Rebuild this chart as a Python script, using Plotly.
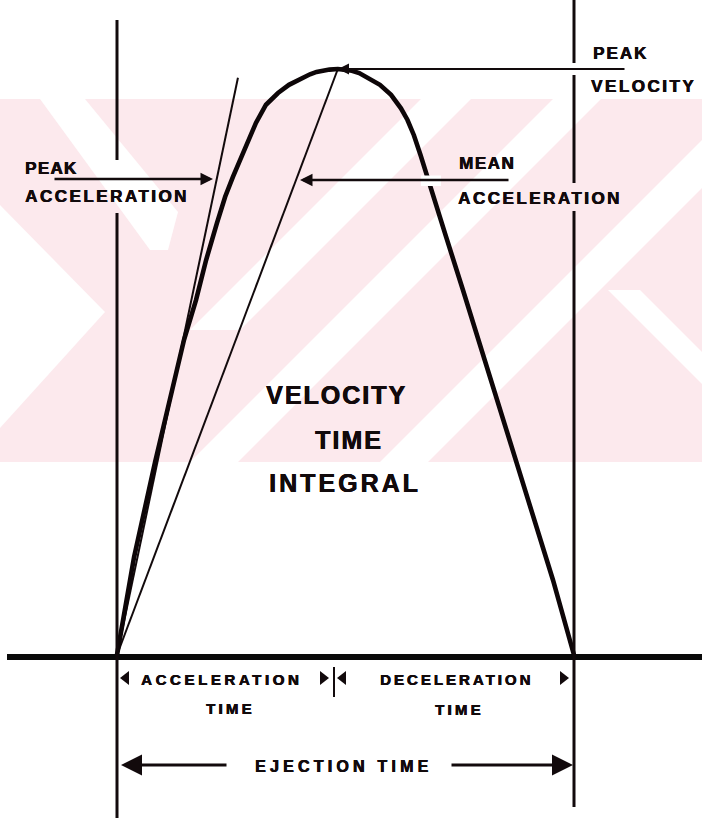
import plotly.graph_objects as go

# ---------------- data (time in ms, velocity in cm/s) ----------------
time_ms = [0, 5.3, 11.2, 24.9, 34.8, 44.0, 51.9, 58.5, 65.6, 71.0, 76.1, 80.9, 85.3, 91.2,
           97.8, 105.7, 112.9, 122.1, 126.7, 131.0, 134.6, 139.5, 145.0,
           150.5, 154.3, 159.0, 163.5, 172.6, 179.9, 186.4, 190.7, 194.9, 199.3,
           203.2, 208.5, 216.1, 227.1, 243.5, 255.4, 271.8, 286.2, 300.0]
velocity = [0, 7.7, 16.7, 32.8, 43.5, 53.8, 60.6, 67.4, 73.7, 78.2, 81.6, 84.6, 87.4, 90.8,
            93.9, 95.9, 97.3, 98.6, 99.1, 99.5, 99.7, 99.9, 100.0,
            99.9, 99.7, 99.3, 98.6, 97.3, 95.6, 93.3, 91.3, 88.7, 85.3,
            81.9, 77.6, 71.3, 62.3, 48.6, 38.4, 24.7, 12.8, 0]
peak_time = 145.0
peak_velocity = 100.0
ejection_time = 300.0
tangent_t = [0, 79.4]      # peak-acceleration tangent
tangent_v = [0, 98.5]
mean_t = [0, peak_time]    # mean acceleration line
mean_v = [0, peak_velocity]

# ---------------- pixel helpers for layout ----------------
W, H = 702, 820
KX, KY = 0.65646, 0.17065
X0PX, Y0PX = 117, 655


def tx(px):
    return (px - X0PX) * KX


def vy(py):
    return (Y0PX - py) * KY


def sp(text, ls):
    return f'<span style="letter-spacing:{ls}px"><b>{text}</b></span>'


FONT = "Liberation Sans"
INK = "#120a0c"
SHADOW = f"0.6px 0px 0px {INK}, 0px 0.4px 0px {INK}"
fig = go.Figure()

# thin lines
fig.add_trace(go.Scatter(x=tangent_t, y=tangent_v, mode="lines",
                         line=dict(color=INK, width=2), hoverinfo="skip"))
fig.add_trace(go.Scatter(x=mean_t, y=mean_v, mode="lines",
                         line=dict(color=INK, width=2), hoverinfo="skip"))
# velocity curve
fig.add_trace(go.Scatter(x=time_ms, y=velocity, mode="lines",
                         line=dict(color="#0d0608", width=4.6),
                         hoverinfo="skip"))

shapes = []


def poly(pts, color, layer="below"):
    d = "M " + " L ".join(f"{x / W:.5f},{1 - y / H:.5f}" for x, y in pts) + " Z"
    shapes.append(dict(type="path", xref="paper", yref="paper", path=d,
                       fillcolor=color, line=dict(width=0), layer=layer))


PINK = "#fce9ed"
# watermark band with white stripes (approximation)
poly([(0, 99), (702, 99), (702, 462), (0, 462)], PINK)
poly([(40, 99), (85, 99), (178, 212), (168, 250), (150, 250)], "white")
poly([(0, 205), (105, 312), (0, 428)], "white")
poly([(553, 99), (601, 99), (238, 462), (190, 462)], "white")
poly([(421, 99), (471, 99), (240, 330), (190, 330)], "white")
poly([(702, 140), (702, 188), (428, 462), (380, 462)], "white")
poly([(608, 290), (640, 290), (702, 352), (702, 384)], "white")

# small break in the curve where the mean-acceleration arrow crosses it
poly([(421, 175.5), (441, 175.5), (441, 186), (421, 186)], "white", layer="above")

# baseline
shapes.append(dict(type="line", xref="x", yref="y", x0=tx(7), x1=tx(702),
                   y0=vy(657), y1=vy(657), line=dict(color="#0a0a0a", width=6)))
# left vertical (onset)
for a, b in [(20, 160), (213, 818)]:
    shapes.append(dict(type="line", xref="x", yref="y", x0=0, x1=0,
                       y0=vy(a), y1=vy(b), line=dict(color=INK, width=3)))
# right vertical (end of ejection)
for a, b in [(0, 63), (75, 183), (211, 807)]:
    shapes.append(dict(type="line", xref="x", yref="y", x0=ejection_time, x1=ejection_time,
                       y0=vy(a), y1=vy(b), line=dict(color=INK, width=3)))
# tick at end of acceleration time
shapes.append(dict(type="line", xref="x", yref="y", x0=tx(334), x1=tx(334),
                   y0=vy(667), y1=vy(697), line=dict(color=INK, width=2)))

ann = []


def arrow(x_tip, y_tip, x_tail, y_tail, w=2, size=1.0, head=2):
    ann.append(dict(x=x_tip, y=y_tip, ax=x_tail, ay=y_tail, xref="x", yref="y",
                    axref="x", ayref="y", text="", showarrow=True, arrowhead=head,
                    arrowsize=size, arrowwidth=w, arrowcolor=INK, standoff=0,
                    startstandoff=0))


# peak velocity arrow
arrow(tx(338), vy(69), tx(626), vy(69), w=2.2)
# peak acceleration arrow
arrow(tx(213), vy(179), tx(53), vy(179), w=2.5)
# mean acceleration arrow
arrow(tx(300), vy(180), tx(510), vy(180), w=2.5)
# ejection time arrows
arrow(tx(121), vy(765), tx(228), vy(765), w=3, size=1.4)
arrow(tx(573), vy(765), tx(450), vy(765), w=3, size=1.4)

# small arrowheads on the acceleration / deceleration row
fig.add_trace(go.Scatter(x=[tx(126), tx(343)], y=[vy(678), vy(678)], mode="markers",
                         marker=dict(symbol="triangle-left", size=12, color=INK),
                         hoverinfo="skip"))
fig.add_trace(go.Scatter(x=[tx(323), tx(563)], y=[vy(678), vy(678)], mode="markers",
                         marker=dict(symbol="triangle-right", size=12, color=INK),
                         hoverinfo="skip"))


def label(text, px, py, size, ls, anchor="left"):
    ann.append(dict(x=px / W, y=1 - py / H, xref="paper", yref="paper",
                    text=sp(text, ls), showarrow=False, xanchor=anchor, yanchor="middle",
                    font=dict(family=FONT, size=size, color=INK, shadow=SHADOW)))


label("PEAK", 23, 169, 17, 1.3)
label("ACCELERATION", 23, 196, 17, 2.5)
label("MEAN", 457, 164, 17, 1.5)
label("ACCELERATION", 456, 198, 17, 2.5)
label("PEAK", 591, 53, 17, 2.0)
label("VELOCITY", 589, 87, 17, 2.5)
label("VELOCITY", 336, 395, 25, 2.0, "center")
label("TIME", 349, 440, 25, 2.0, "center")
label("INTEGRAL", 345, 483, 25, 3.0, "center")
label("ACCELERATION", 139, 679, 15, 3.6)
label("DECELERATION", 378, 679, 15, 3.0)
label("TIME", 230, 708, 15, 3.2, "center")
label("TIME", 459, 709, 15, 3.2, "center")
label("EJECTION TIME", 253, 766, 16, 4.2)

fig.update_layout(
    width=W, height=H, margin=dict(l=0, r=0, t=0, b=0),
    paper_bgcolor="white", plot_bgcolor="white", showlegend=False,
    xaxis=dict(range=[tx(0), tx(W)], visible=False, fixedrange=True),
    yaxis=dict(range=[vy(H), vy(0)], visible=False, fixedrange=True),
    shapes=shapes, annotations=ann,
)

fig.write_html("out.html", config={"displayModeBar": False},
               post_script="document.body.style.margin='0px';document.body.style.overflow='hidden';")
